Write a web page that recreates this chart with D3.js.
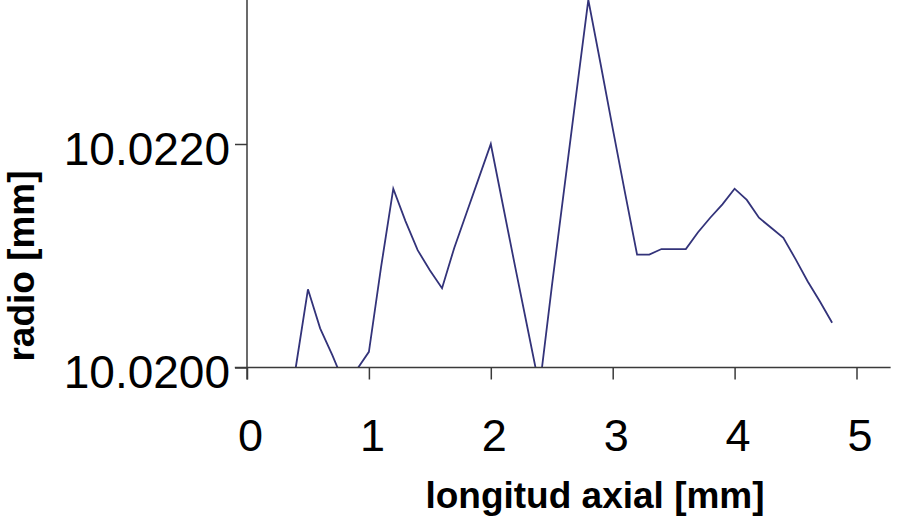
<!DOCTYPE html>
<html>
<head>
<meta charset="utf-8">
<script src="https://cdn.jsdelivr.net/npm/d3@7"></script>
<style>
  html, body { margin: 0; padding: 0; background: #fff; }
  svg { display: block; }
</style>
</head>
<body>
<svg id="chart" width="898" height="523"></svg>
<script>
// ---- data ----
const positions = [0.4,0.5,0.6,0.7,0.8,0.9,1.0,1.1,1.2,1.3,1.4,1.5,1.6,1.7,1.8,1.9,2.0,2.1,2.2,2.3,2.4,2.5,2.6,2.7,2.8,2.9,3.0,3.1,3.2,3.3,3.4,3.5,3.6,3.7,3.8,3.9,4.0,4.1,4.2,4.3,4.4,4.5,4.6,4.7,4.8];
const radius = [10.02000,10.02070,10.02035,10.02011,10.01985,10.01998,10.02014,10.02090,10.02160,10.02131,10.02105,10.02087,10.02071,10.02107,10.02138,10.02169,10.02200,10.02145,10.02090,10.02036,10.01982,10.02072,10.02158,10.02244,10.02329,10.02272,10.02214,10.02157,10.02101,10.02101,10.02106,10.02106,10.02106,10.02121,10.02134,10.02146,10.02160,10.02150,10.02134,10.02125,10.02116,10.02097,10.02077,10.02059,10.02040];
const xTicks = [0,1,2,3,4,5];
const yTicks = [10.0200, 10.0220];
const xTitle = "longitud axial [mm]";
const yTitle = "radio [mm]";

// ---- layout ----
const svg = d3.select("#chart");
const x = d3.scaleLinear().domain([0,5]).range([247, 856.5]);
const y = d3.scaleLinear().domain([10.0200, 10.0220]).range([367.5, 144]);
const axisColor = "#3a3a3a";
const lineColor = "#33337a";
const font = "'Liberation Sans', Arial, Helvetica, sans-serif";

// clip so the trace is hidden below the x axis
svg.append("defs").append("clipPath").attr("id", "plotclip")
  .append("rect")
  .attr("x", x(0)).attr("y", -10)
  .attr("width", 898 - x(0)).attr("height", y(10.0200) + 10);

// trace
const data = positions.map((p, i) => ({x: p, y: radius[i]}));
svg.append("path")
  .datum(data)
  .attr("clip-path", "url(#plotclip)")
  .attr("fill", "none")
  .attr("stroke", lineColor)
  .attr("stroke-width", 1.8)
  .attr("stroke-linejoin", "miter")
  .attr("d", d3.line().x(d => x(d.x)).y(d => y(d.y)));

// x axis
const gx = svg.append("g").attr("transform", `translate(0,${y(10.0200)})`)
  .call(d3.axisBottom(x).tickValues(xTicks).tickSize(12).tickSizeOuter(0).tickFormat(d3.format("d")));
gx.select(".domain").remove();
gx.selectAll(".tick line").attr("stroke", axisColor).attr("stroke-width", 1.5);
gx.selectAll(".tick text")
  .attr("y", 83).attr("dy", 0).attr("dx", 3)
  .attr("font-family", font).attr("font-size", 45).attr("fill", "#000");
gx.append("line")
  .attr("x1", x(-0.1)).attr("x2", x(5.28))
  .attr("y1", 0).attr("y2", 0)
  .attr("stroke", axisColor).attr("stroke-width", 1.5);

// y axis
const gy = svg.append("g").attr("transform", `translate(${x(0)},0)`)
  .call(d3.axisLeft(y).tickValues(yTicks).tickSize(12).tickSizeOuter(0).tickPadding(5).tickFormat(d3.format(".4f")));
gy.select(".domain").remove();
gy.selectAll(".tick line").attr("stroke", axisColor).attr("stroke-width", 1.5);
gy.selectAll(".tick text")
  .attr("dy", "0.44em")
  .attr("font-family", font).attr("font-size", 46).attr("fill", "#000");
gy.append("line")
  .attr("x1", 0).attr("x2", 0)
  .attr("y1", 0).attr("y2", y(10.0200) + 12)
  .attr("stroke", axisColor).attr("stroke-width", 1.5);

// titles
svg.append("text")
  .attr("x", 595).attr("y", 508)
  .attr("text-anchor", "middle")
  .attr("font-family", font).attr("font-weight", "bold").attr("font-size", 37)
  .attr("fill", "#000")
  .text(xTitle);

svg.append("text")
  .attr("transform", "translate(34,266) rotate(-90)")
  .attr("text-anchor", "middle")
  .attr("font-family", font).attr("font-weight", "bold").attr("font-size", 37)
  .attr("fill", "#000")
  .text(yTitle);
</script>
</body>
</html>
